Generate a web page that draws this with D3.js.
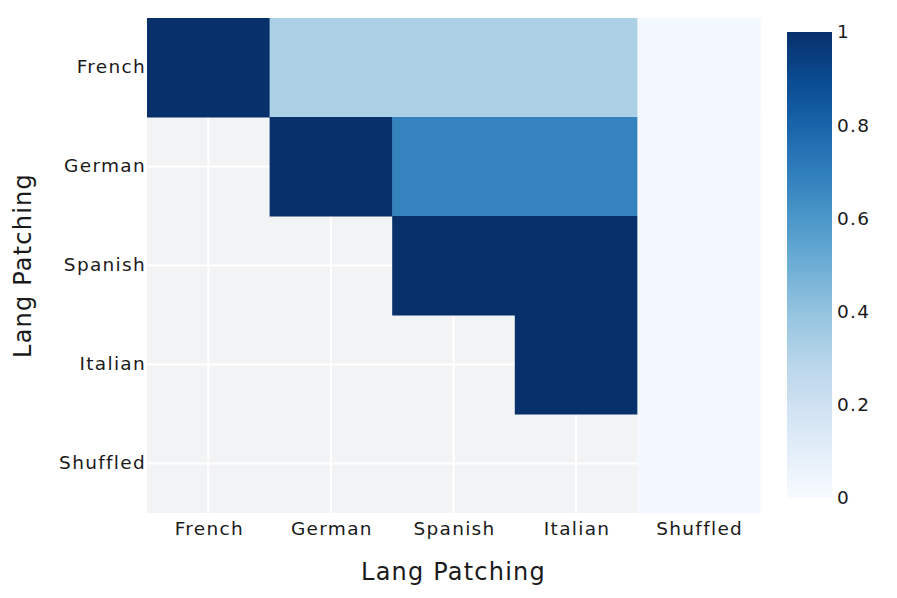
<!DOCTYPE html>
<html>
<head>
<meta charset="utf-8">
<script src="https://cdn.jsdelivr.net/npm/d3@7"></script>
<style>
  body { margin: 0; background: #fff; }
  text { font-family: "DejaVu Sans", sans-serif; fill: #1a1a1a; }
</style>
</head>
<body>
<div id="chart"></div>
<script>
const langs = ["French", "German", "Spanish", "Italian", "Shuffled"]
// rows = y category (top to bottom), cols = x category; null = no value
const rowFrench   = [1, 0.33, 0.33, 0.33, 0.025]
const rowGerman   = [null, 1, 0.68, 0.68, 0.02]
const rowSpanish  = [null, null, 1, 1, 0.02]
const rowItalian  = [null, null, null, 1, 0.02]
const rowShuffled = [null, null, null, null, 0.02]
const colorTicks = [0, 0.2, 0.4, 0.6, 0.8, 1]

const W = 897, H = 598
const MARGIN = { TOP: 18, BOTTOM: 85, LEFT: 147, RIGHT: 137 }
const WIDTH = W - MARGIN.LEFT - MARGIN.RIGHT
const HEIGHT = H - MARGIN.TOP - MARGIN.BOTTOM
const FONT = "DejaVu Sans"

const rows = [rowFrench, rowGerman, rowSpanish, rowItalian, rowShuffled]
const cells = []
rows.forEach((r, i) => r.forEach((v, j) => {
    if (v !== null) cells.push({ y: langs[i], x: langs[j], v })
}))

const svg = d3.select("#chart").append("svg")
    .attr("width", W).attr("height", H)

const g = svg.append("g")
    .attr("transform", `translate(${MARGIN.LEFT}, ${MARGIN.TOP})`)

const x = d3.scaleBand().domain(langs).range([0, WIDTH])
const y = d3.scaleBand().domain(langs).range([0, HEIGHT])
const color = d3.scaleSequential(d3.interpolateBlues).domain([0, 1])

// background + grid
g.append("rect").attr("width", WIDTH).attr("height", HEIGHT).attr("fill", "#f2f3f5")
g.selectAll(".vgrid").data(langs).enter().append("line")
    .attr("x1", d => x(d) + x.bandwidth() / 2).attr("x2", d => x(d) + x.bandwidth() / 2)
    .attr("y1", 0).attr("y2", HEIGHT)
    .attr("stroke", "#fff").attr("stroke-width", 2)
g.selectAll(".hgrid").data(langs).enter().append("line")
    .attr("y1", d => y(d) + y.bandwidth() / 2).attr("y2", d => y(d) + y.bandwidth() / 2)
    .attr("x1", 0).attr("x2", WIDTH)
    .attr("stroke", "#fff").attr("stroke-width", 2)

g.selectAll(".cell").data(cells).enter().append("rect")
    .attr("x", d => x(d.x))
    .attr("y", d => y(d.y))
    .attr("width", x.bandwidth() + 0.5)
    .attr("height", y.bandwidth() + 0.5)
    .attr("fill", d => color(d.v))

function styleTicks(sel) {
    sel.select(".domain").remove()
    sel.selectAll("text")
        .attr("font-size", 18.5)
        .style("font-family", FONT)
        .style("letter-spacing", "1.3px")
        .attr("fill", "#1a1a1a")
}

// axes
const xAxis = g.append("g")
    .attr("transform", `translate(0, ${HEIGHT})`)
    .call(d3.axisBottom(x).tickSize(0).tickPadding(9))
styleTicks(xAxis)
xAxis.selectAll("text").attr("dx", 1)

const yAxis = g.append("g")
    .call(d3.axisLeft(y).tickSize(0).tickPadding(1))
styleTicks(yAxis)

svg.append("text")
    .attr("x", MARGIN.LEFT + WIDTH / 2).attr("y", 580)
    .attr("text-anchor", "middle").attr("font-size", 24)
    .style("letter-spacing", "1.2px")
    .text("Lang Patching")

svg.append("text")
    .attr("transform", `translate(31, ${MARGIN.TOP + HEIGHT / 2}) rotate(-90)`)
    .attr("text-anchor", "middle").attr("font-size", 24)
    .style("letter-spacing", "1.2px")
    .text("Lang Patching")

// colorbar
const CB = { X: 787, Y: 32, W: 45, H: 466 }
const defs = svg.append("defs")
const grad = defs.append("linearGradient").attr("id", "cbgrad")
    .attr("x1", 0).attr("x2", 0).attr("y1", 1).attr("y2", 0)
d3.range(0, 1.0001, 0.1).forEach(t => {
    grad.append("stop").attr("offset", t).attr("stop-color", color(t))
})
svg.append("rect")
    .attr("x", CB.X).attr("y", CB.Y).attr("width", CB.W).attr("height", CB.H)
    .attr("fill", "url(#cbgrad)")

const cy = d3.scaleLinear().domain([0, 1]).range([CB.Y + CB.H, CB.Y])
const cAxis = svg.append("g")
    .attr("transform", `translate(${CB.X + CB.W}, 0)`)
    .call(d3.axisRight(cy).tickValues(colorTicks).tickFormat(d3.format("~g")).tickSize(0).tickPadding(5))
styleTicks(cAxis)
</script>
</body>
</html>
